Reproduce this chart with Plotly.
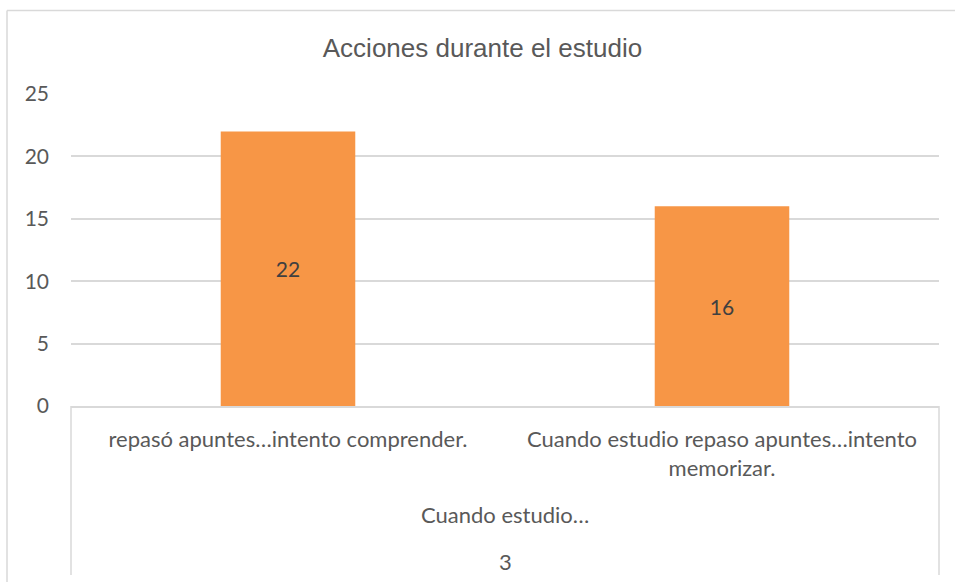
import plotly.graph_objects as go

categories = ["repasó apuntes…intento comprender.",
              "Cuando estudio repaso apuntes…intento<br>memorizar."]
values = [22, 16]
group_label = "Cuando estudio…"
group_sub = "3"
title_text = "Acciones durante el estudio"
y_ticks = [0, 5, 10, 15, 20, 25]

W, H = 955, 582
L, R, T, B = 71, 939, 94, 406

def px_x(p):
    return (p - L) / (R - L)

def px_y(p):
    return (B - p) / (B - T)

FONT = "Lato, Open Sans, sans-serif"
TXT = "#595959"
grid = "#D9D9D9"

fig = go.Figure(go.Bar(
    x=categories, y=values,
    marker=dict(color="#F79646", line=dict(width=0)),
    text=[str(v) for v in values],
    textposition="inside", insidetextanchor="middle",
    textfont=dict(family=FONT, size=21, color="#404040"),
    width=0.31,
))

shapes = [
    dict(type="line", xref="paper", yref="paper", x0=px_x(7), x1=px_x(960), y0=px_y(10.5), y1=px_y(10.5),
         line=dict(color=grid, width=1.5)),
    dict(type="line", xref="paper", yref="paper", x0=px_x(7), x1=px_x(7), y0=px_y(10.5), y1=px_y(590),
         line=dict(color=grid, width=1.5)),
    dict(type="line", xref="paper", yref="paper", x0=0, x1=0, y0=0, y1=px_y(575),
         line=dict(color=grid, width=1.5)),
    dict(type="line", xref="paper", yref="paper", x0=1, x1=1, y0=0, y1=px_y(575),
         line=dict(color=grid, width=1.5)),
]

annotations = [
    dict(text=group_label, xref="paper", yref="paper", x=0.5, y=px_y(514),
         showarrow=False, yanchor="middle",
         font=dict(family=FONT, size=22, color=TXT)),
    dict(text=group_sub, xref="paper", yref="paper", x=0.5, y=px_y(561),
         showarrow=False, yanchor="middle",
         font=dict(family=FONT, size=22, color=TXT)),
]

fig.update_layout(
    width=W, height=H,
    margin=dict(l=L, r=W - R, t=T, b=H - B, pad=0),
    paper_bgcolor="white", plot_bgcolor="white",
    title=dict(text=title_text, x=482.5 / W, xanchor="center", y=1 - 48 / H, yanchor="middle",
               font=dict(family="Liberation Sans, Arial, sans-serif", size=26, color=TXT)),
    showlegend=False,
    bargap=0.69,
    xaxis=dict(showgrid=False, showline=True, linecolor=grid, linewidth=1.5,
               ticks="", tickfont=dict(family=FONT, size=22, color=TXT),
               ticklabelstandoff=13, fixedrange=True),
    yaxis=dict(range=[0, 25], tickvals=y_ticks, showgrid=True, gridcolor=grid, gridwidth=1.5,
               zeroline=False, showline=False, ticks="",
               tickfont=dict(family=FONT, size=21, color=TXT),
               ticklabelstandoff=21, fixedrange=True),
    shapes=shapes,
    annotations=annotations,
)

fig.write_html("out.html", config={"displayModeBar": False},
               post_script="document.body.style.margin='0px';")
